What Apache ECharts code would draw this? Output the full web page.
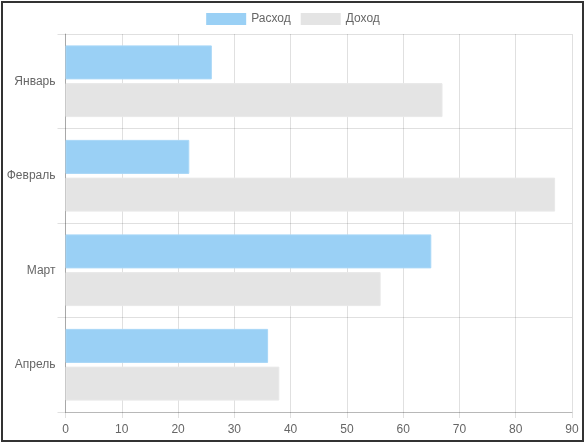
<!DOCTYPE html>
<html>
<head>
<meta charset="utf-8">
<script src="https://cdn.jsdelivr.net/npm/echarts@6/dist/echarts.min.js"></script>
<style>
html,body{margin:0;padding:0;background:#fff;}
#frame{position:absolute;left:1px;top:1px;width:579px;height:437px;border:2px solid #333;background:#fff;}
#chart{position:absolute;left:0;top:0;width:586px;height:443px;}
</style>
</head>
<body>
<div id="frame"></div>
<div id="chart"></div>
<script>
const categories = ['Январь', 'Февраль', 'Март', 'Апрель'];
const seriesNames = ['Расход', 'Доход'];
const expenses = [26, 22, 65, 36];
const income = [67, 87, 56, 38];
const xTicks = [0, 90, 10];

const chart = echarts.init(document.getElementById('chart'), null, {renderer: 'canvas'});
const font = 'Liberation Sans, Arial, Helvetica, sans-serif';
chart.setOption({
  animation: false,
  textStyle: {fontFamily: font},
  legend: {
    top: 8,
    left: 'center',
    itemWidth: 40,
    itemHeight: 12,
    itemGap: 10,
    icon: 'rect',
    itemStyle: {borderWidth: 0},
    textStyle: {color: '#666', fontSize: 12, fontFamily: font},
    data: seriesNames
  },
  grid: {left: 65.5, right: 14, top: 34, bottom: 31, containLabel: false},
  xAxis: {
    type: 'value',
    min: xTicks[0], max: xTicks[1], interval: xTicks[2],
    axisLine: {show: true, lineStyle: {color: 'rgba(0,0,0,0.18)'}},
    axisTick: {show: true, length: 6, lineStyle: {color: 'rgba(0,0,0,0.12)'}},
    axisLabel: {color: '#666', fontSize: 12, fontFamily: font, margin: 12},
    splitLine: {show: true, lineStyle: {color: 'rgba(0,0,0,0.12)'}}
  },
  yAxis: {
    type: 'category',
    inverse: true,
    data: categories,
    axisLine: {show: true, lineStyle: {color: 'rgba(0,0,0,0.25)'}},
    axisTick: {show: true, length: 8, lineStyle: {color: 'rgba(0,0,0,0.12)'}},
    axisLabel: {color: '#666', fontSize: 12, fontFamily: font, margin: 10},
    splitLine: {show: true, lineStyle: {color: 'rgba(0,0,0,0.12)'}}
  },
  series: [
    {name: seriesNames[0], type: 'bar', data: expenses, barWidth: 34, barGap: '11%',
     itemStyle: {color: '#9AD0F5', borderColor: '#A8D7F7', borderWidth: 1}},
    {name: seriesNames[1], type: 'bar', data: income, barWidth: 34, barGap: '11%',
     itemStyle: {color: '#E4E4E4', borderColor: '#E9E9E9', borderWidth: 1}}
  ]
});
</script>
</body>
</html>
